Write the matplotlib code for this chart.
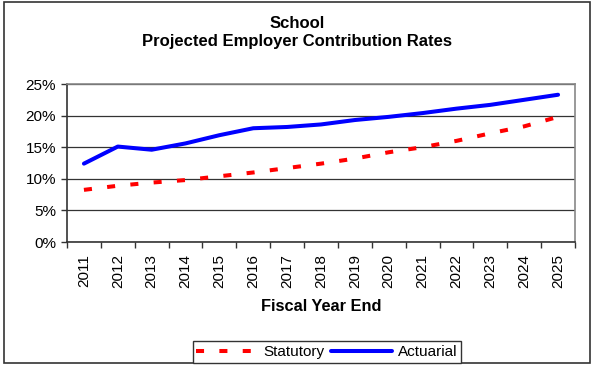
import matplotlib.pyplot as plt
from matplotlib.patches import Rectangle
from matplotlib.ticker import FuncFormatter, FixedLocator

plt.rcParams['font.family'] = ['Liberation Sans', 'DejaVu Sans']

years = [2011, 2012, 2013, 2014, 2015, 2016, 2017, 2018,
         2019, 2020, 2021, 2022, 2023, 2024, 2025]
statutory = [8.25, 8.9, 9.4, 9.8, 10.4, 11.0, 11.7, 12.4,
             13.2, 14.2, 15.0, 16.0, 17.2, 18.3, 19.8]
actuarial = [12.4, 15.1, 14.6, 15.6, 16.9, 18.0, 18.2, 18.6,
             19.3, 19.8, 20.4, 21.1, 21.7, 22.5, 23.3]
y_ticks = [0, 5, 10, 15, 20, 25]

W, H = 592, 365
fig = plt.figure(figsize=(W / 100, H / 100), dpi=100)
ax = fig.add_axes([67 / W, 1 - 242 / H, 508 / W, 158 / H])

x = list(range(len(years)))
ax.plot(x, statutory, color='#ff0000', lw=2.9, linestyle=(0, (2.0, 3.8)),
        dash_capstyle='butt', label='Statutory')
ax.plot(x, actuarial, color='#0000ff', lw=2.9, solid_capstyle='round',
        label='Actuarial')

ax.set_xlim(-0.5, len(years) - 0.5)
ax.set_ylim(0, 25)
ax.set_yticks(y_ticks)
ax.yaxis.set_major_formatter(FuncFormatter(lambda v, _: f'{v:.0f}%'))

# category labels sit between the boundary tick marks
ax.xaxis.set_major_locator(FixedLocator([i - 0.5 for i in range(len(years) + 1)]))
ax.xaxis.set_minor_locator(FixedLocator(x))
ax.set_xticklabels([''] * (len(years) + 1))
ax.set_xticklabels([str(y) for y in years], minor=True, rotation=90)
ax.tick_params(axis='x', which='minor', length=0, pad=8.5, labelsize=11)
ax.tick_params(axis='x', which='major', direction='out', length=4, width=1, color='#333333')
ax.tick_params(axis='y', direction='out', length=4, width=1, color='#333333',
               labelsize=11, pad=4)

ax.grid(axis='y', color='#333333', lw=0.9)
ax.set_axisbelow(True)
for side in ('left', 'bottom'):
    ax.spines[side].set_color('#333333')
    ax.spines[side].set_linewidth(1.2)
for side in ('top', 'right'):
    ax.spines[side].set_color('#888888')
    ax.spines[side].set_linewidth(1.2)

fig.text(321.5 / W, 1 - 310.7 / H, 'Fiscal Year End', ha='center', va='baseline',
         fontsize=11.8, fontweight='bold')

fig.text(297.5 / W, 1 - 28.3 / H, 'School', ha='center', va='baseline',
         fontsize=12, fontweight='bold')
fig.text(297.5 / W, 1 - 45.7 / H, 'Projected Employer Contribution Rates',
         ha='center', va='baseline', fontsize=12, fontweight='bold')

leg = fig.legend(loc='lower center', bbox_to_anchor=(327 / W, 2 / H), ncol=2,
                 frameon=True, fancybox=False, edgecolor='#333333', framealpha=1,
                 fontsize=11, handlelength=4.0, handletextpad=0.4,
                 columnspacing=0.4, borderpad=0.25, borderaxespad=0)
leg.get_frame().set_linewidth(1.0)

# outer chart border
fig.patches.append(Rectangle((4 / W, 2.5 / H), 586 / W, 360.5 / H,
                             transform=fig.transFigure, fill=False,
                             edgecolor='#333333', lw=1.2))

fig.savefig('out.png', dpi=100)
